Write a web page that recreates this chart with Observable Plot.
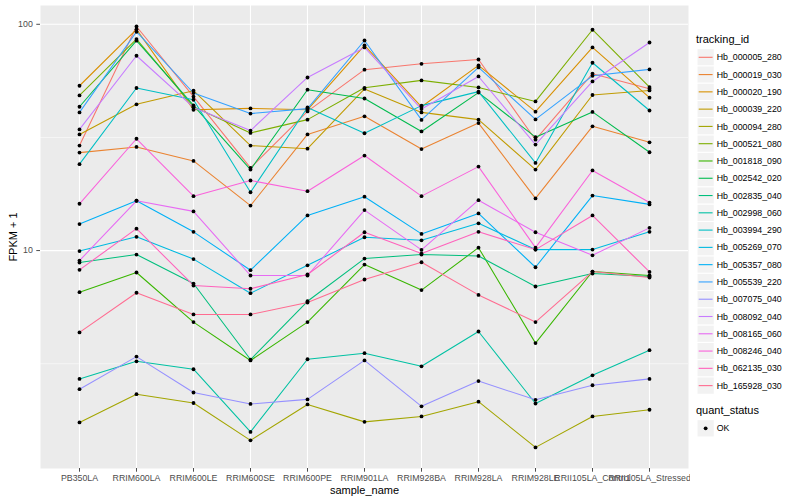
<!DOCTYPE html>
<html>
<head>
<meta charset="utf-8">
<script src="https://cdn.jsdelivr.net/npm/d3@7"></script>
<script src="https://cdn.jsdelivr.net/npm/@observablehq/plot@0.6"></script>
<style>
  html, body { margin: 0; padding: 0; background: white; }
  #wrap { position: relative; width: 800px; height: 500px; font-family: "Liberation Sans", Arial, Helvetica, sans-serif; }
  #chart { position: absolute; left: 0; top: 0; }
  #legend { position: absolute; left: 690px; top: 0; }
</style>
</head>
<body>
<div id="wrap"><div id="chart"></div><div id="legend"></div></div>
<script>
// Categories
const samples = ["PB350LA","RRIM600LA","RRIM600LE","RRIM600SE","RRIM600PE","RRIM901LA","RRIM928BA","RRIM928LA","RRIM928LE","RRII105LA_Control","RRII105LA_Stressed"];
const trackingIds = ["Hb_000005_280","Hb_000019_030","Hb_000020_190","Hb_000039_220","Hb_000094_280","Hb_000521_080","Hb_001818_090","Hb_002542_020","Hb_002835_040","Hb_002998_060","Hb_003994_290","Hb_005269_070","Hb_005357_080","Hb_005539_220","Hb_007075_040","Hb_008092_040","Hb_008165_060","Hb_008246_040","Hb_062135_030","Hb_165928_030"];
const palette = ["#F8766D","#EA8331","#D89000","#C09B00","#A3A500","#7CAE00","#39B600","#00BB4E","#00BF7D","#00C1A3","#00BFC4","#00BAE0","#00B0F6","#35A2FF","#9590FF","#C77CFF","#E76BF3","#FA62DB","#FF62BC","#FF6C91"];
const yTicks = [10, 100];
const yMinor = [3.1623, 31.623];
const quantStatus = ["OK"];

// Series values (FPKM + 1), one per sample
const v_Hb_000005_280 = [29.1, 97.8, 47.9, 23.2, 41.2, 63.0, 66.9, 69.9, 30.9, 60.5, 51.9];
const v_Hb_000019_030 = [27.1, 28.7, 24.9, 15.8, 32.6, 39.2, 28.1, 36.6, 17.0, 35.4, 30.1];
const v_Hb_000020_190 = [53.5, 95.0, 41.9, 42.5, 41.9, 80.6, 43.2, 65.8, 41.1, 79.0, 47.4];
const v_Hb_000039_220 = [32.6, 44.3, 50.9, 29.1, 28.2, 51.8, 40.8, 37.9, 22.8, 48.7, 51.0];
const v_Hb_000094_280 = [1.74, 2.32, 2.12, 1.45, 2.09, 1.75, 1.85, 2.15, 1.35, 1.85, 1.98];
const v_Hb_000521_080 = [48.5, 86.0, 43.2, 33.1, 37.9, 52.4, 56.5, 52.6, 45.6, 94.6, 52.8];
const v_Hb_001818_090 = [6.55, 8.00, 4.83, 3.27, 4.83, 8.67, 6.69, 10.3, 3.90, 8.08, 7.76];
const v_Hb_002542_020 = [43.2, 84.6, 43.8, 22.8, 51.4, 47.0, 33.6, 49.9, 31.7, 41.0, 27.2];
const v_Hb_002835_040 = [8.85, 9.60, 7.15, 3.30, 5.97, 9.22, 9.60, 9.47, 6.94, 7.92, 7.68];
const v_Hb_002998_060 = [2.71, 3.24, 2.99, 1.58, 3.31, 3.52, 3.08, 4.39, 2.11, 2.81, 3.63];
const v_Hb_003994_290 = [24.1, 52.3, 46.4, 18.1, 42.9, 33.0, 43.7, 50.4, 24.4, 67.6, 41.6];
const v_Hb_005269_070 = [9.95, 11.5, 9.17, 6.48, 8.61, 11.45, 11.1, 13.2, 10.1, 10.1, 12.1];
const v_Hb_005357_080 = [13.1, 16.6, 12.1, 8.19, 14.3, 17.3, 11.85, 14.6, 8.44, 17.5, 16.0];
const v_Hb_005539_220 = [40.8, 92.7, 49.7, 40.3, 42.4, 84.8, 37.8, 64.5, 38.0, 59.2, 63.2];
const v_Hb_007075_040 = [2.44, 3.40, 2.36, 2.10, 2.20, 3.27, 2.05, 2.65, 2.19, 2.54, 2.71];
const v_Hb_008092_040 = [34.3, 72.6, 42.9, 33.9, 58.2, 79.0, 42.2, 58.8, 29.4, 55.9, 83.1];
const v_Hb_008165_060 = [9.03, 16.6, 14.9, 7.76, 7.76, 15.1, 10.07, 16.7, 12.05, 9.53, 12.6];
const v_Hb_008246_040 = [16.1, 31.2, 17.4, 20.4, 18.3, 26.3, 17.4, 23.5, 10.3, 22.6, 16.3];
const v_Hb_062135_030 = [8.22, 12.5, 7.01, 6.78, 7.84, 12.05, 9.70, 12.1, 10.1, 14.3, 8.05];
const v_Hb_165928_030 = [4.35, 6.51, 5.22, 5.22, 5.89, 7.45, 8.88, 6.37, 4.83, 8.08, 7.60];

const seriesValues = [v_Hb_000005_280, v_Hb_000019_030, v_Hb_000020_190, v_Hb_000039_220, v_Hb_000094_280,
  v_Hb_000521_080, v_Hb_001818_090, v_Hb_002542_020, v_Hb_002835_040, v_Hb_002998_060,
  v_Hb_003994_290, v_Hb_005269_070, v_Hb_005357_080, v_Hb_005539_220, v_Hb_007075_040,
  v_Hb_008092_040, v_Hb_008165_060, v_Hb_008246_040, v_Hb_062135_030, v_Hb_165928_030];

const rows = [];
trackingIds.forEach((id, i) => {
  samples.forEach((s, j) => rows.push({tracking_id: id, sample_name: s, value: seriesValues[i][j], quant_status: "OK"}));
});

const FONT = '"Liberation Sans", Arial, Helvetica, sans-serif';

const chart = Plot.plot({
  width: 690,
  height: 500,
  marginLeft: 40,
  marginRight: 2,
  marginTop: 5,
  marginBottom: 32,
  style: {fontFamily: FONT, fontSize: "8.8px", background: "white"},
  x: {type: "point", domain: samples, padding: 0.6, axis: null},
  y: {type: "log", domain: [Math.pow(10, 0.037), Math.pow(10, 2.083)], axis: null},
  color: {type: "ordinal", domain: trackingIds, range: palette},
  marks: [
    Plot.frame({fill: "#EBEBEB", stroke: null}),
    Plot.gridY(yMinor, {stroke: "white", strokeOpacity: 1, strokeWidth: 0.55}),
    Plot.gridY(yTicks, {stroke: "white", strokeOpacity: 1, strokeWidth: 1.1}),
    Plot.gridX(samples, {stroke: "white", strokeOpacity: 1, strokeWidth: 1.1}),
    Plot.line(rows, {x: "sample_name", y: "value", z: "tracking_id", stroke: "tracking_id", strokeWidth: 1.07}),
    Plot.dot(rows, {x: "sample_name", y: "value", fill: "black", r: 1.9}),
    Plot.axisX({tickSize: 3.7, tickPadding: 3, color: "#4D4D4D", fontSize: 8.8, label: null}),
    Plot.axisY({ticks: yTicks, tickFormat: d => String(d), tickSize: 3.7, tickPadding: 4, color: "#4D4D4D", fontSize: 8.8, label: null}),
    Plot.text(["FPKM + 1"], {text: d => d, frameAnchor: "left", textAnchor: "middle", lineAnchor: "middle", dx: -27, rotate: -90, fontSize: 11, fill: "black"}),
    Plot.text(["sample_name"], {text: d => d, frameAnchor: "bottom", textAnchor: "middle", lineAnchor: "middle", dy: 22, fontSize: 11, fill: "black"})
  ]
});
document.getElementById("chart").appendChild(chart);

// Legend (ggplot-style, to the right)
const lg = d3.select("#legend").append("svg")
  .attr("width", 110).attr("height", 500)
  .style("font-family", FONT);
const keyX = 7, keyS = 17.28, firstC = 57.3;
lg.append("text").attr("x", 6).attr("y", 42.5).attr("font-size", 11).attr("fill", "black").text("tracking_id");
trackingIds.forEach((id, i) => {
  const cy = firstC + i * keyS;
  lg.append("rect").attr("x", keyX).attr("y", cy - keyS / 2).attr("width", keyS).attr("height", keyS)
    .attr("fill", "#F2F2F2").attr("stroke", "white").attr("stroke-width", 1);
  lg.append("line").attr("x1", keyX + 1.7).attr("x2", keyX + keyS - 1.7).attr("y1", cy).attr("y2", cy)
    .attr("stroke", palette[i]).attr("stroke-width", 1.1);
  lg.append("text").attr("x", 26.7).attr("y", cy).attr("dy", "0.35em").attr("font-size", 8.8).attr("fill", "black").text(id);
});
lg.append("text").attr("x", 6).attr("y", 413.5).attr("font-size", 11).attr("fill", "black").text("quant_status");
quantStatus.forEach((q, i) => {
  const cy = 428.3 + i * keyS;
  lg.append("rect").attr("x", keyX).attr("y", cy - keyS / 2).attr("width", keyS).attr("height", keyS)
    .attr("fill", "#F2F2F2").attr("stroke", "white").attr("stroke-width", 1);
  lg.append("circle").attr("cx", keyX + keyS / 2).attr("cy", cy).attr("r", 1.9).attr("fill", "black");
  lg.append("text").attr("x", 26.7).attr("y", cy).attr("dy", "0.35em").attr("font-size", 8.8).attr("fill", "black").text(q);
});
</script>
</body>
</html>
